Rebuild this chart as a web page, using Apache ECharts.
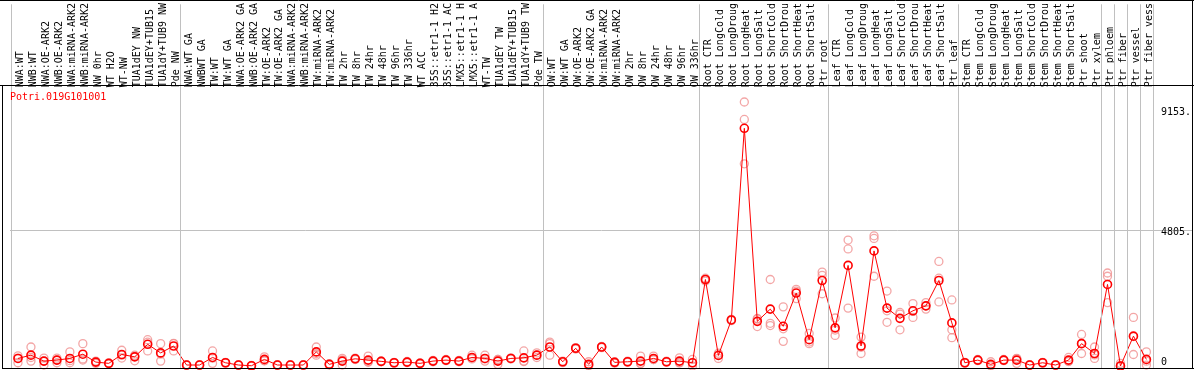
<!DOCTYPE html>
<html>
<head>
<meta charset="utf-8">
<script src="https://cdn.jsdelivr.net/npm/echarts@6/dist/echarts.min.js"></script>
<style>html,body{margin:0;padding:0;background:#fff;}#c{width:1194px;height:370px;}</style>
</head>
<body>
<div id="c"></div>
<script>
const geneName = 'Potri.019G101001';
const categories = [
'NWA:WT','NWB:WT','NWA:OE-ARK2','NWB:OE-ARK2','NWA:miRNA-ARK2','NWB:miRNA-ARK2','NW 0hr','WT H2O','WT-NW','TUA1dEY NW','TUA1dEY+TUB15','TUA1dY+TUB9 NW','Pde NW',
'NWA:WT GA','NWBWT GA','TW:WT','TW:WT GA','NWA:OE-ARK2 GA','NWB:OE-ARK2 GA','TW:OE-ARK2','TW:OE-ARK2 GA','NWA:miRNA-ARK2','NWB:miRNA-ARK2','TW:miRNA-ARK2','TW:miRNA-ARK2','TW 2hr','TW 8hr','TW 24hr','TW 48hr','TW 96hr','TW 336hr','WT ACC','35S::etr1-1 H2','35S::etr1-1 AC','LMX5::etr1-1 H','LMX5::etr1-1 A','WT-TW','TUA1dEY TW','TUA1dEY+TUB15','TUA1dY+TUB9 TW','Pde TW',
'OW:WT','OW:WT GA','OW:OE-ARK2','OW:OE-ARK2 GA','OW:miRNA-ARK2','OW:miRNA-ARK2','OW 2hr','OW 8hr','OW 24hr','OW 48hr','OW 96hr','OW 336hr',
'Root CTR','Root LongCold','Root LongDroug','Root LongHeat','Root LongSalt','Root ShortCold','Root ShortDrou','Root ShortHeat','Root ShortSalt','Ptr root',
'Leaf CTR','Leaf LongCold','Leaf LongDroug','Leaf LongHeat','Leaf LongSalt','Leaf ShortCold','Leaf ShortDrou','Leaf ShortHeat','Leaf ShortSalt','Ptr leaf',
'Stem CTR','Stem LongCold','Stem LongDroug','Stem LongHeat','Stem LongSalt','Stem ShortCold','Stem ShortDrou','Stem ShortHeat','Stem ShortSalt','Ptr shoot','Ptr xylem',
'Ptr phloem','Ptr fiber','Ptr vessel','Ptr fiber vess'];
const groupSizes = [13, 28, 12, 10, 10, 11, 1, 1, 1, 1];
const meanValues = [
268,383,174,209,268,418,139,94,407,324,766,463,707,
35,35,303,115,35,10,233,35,35,35,498,59,174,254,209,164,115,139,94,174,209,174,303,268,174,268,289,383,
672,150,627,59,672,129,150,174,268,150,174,115,
3054,373,1626,8392,1577,2009,1403,2577,930,3019,
1348,3552,707,4064,2044,1682,1950,2124,3019,1522,
115,209,59,209,209,35,115,35,209,790,442,
2880,0,1055,233];
const rep1 = [
359,672,279,279,498,790,174,94,557,383,930,790,790,
20,20,533,100,20,0,324,20,20,20,672,40,35,230,348,150,100,120,80,150,190,150,383,383,59,250,533,463,
846,120,600,150,650,100,130,348,348,170,289,233,
3000,268,1600,9321,1393,3054,2089,2705,790,3318,
1696,4447,1020,4596,2646,1891,2204,2009,3691,2333,
100,190,150,190,94,20,100,20,303,1114,672,
3284,94,1717,498];
const rep2 = [
115,174,35,115,115,250,94,80,383,185,533,174,533,
50,50,94,130,50,20,190,50,50,50,383,80,270,280,150,180,130,160,110,200,230,200,280,174,230,290,174,383,
383,170,650,20,690,150,170,100,230,130,120,0,
3100,400,1650,8705,1661,1508,870,2646,846,3203,
1079,4133,442,4503,1950,1278,1717,2124,2263,1278,
130,230,20,230,270,50,130,50,170,442,268,
3169,0,407,35];
const rep3 = [
279,300,174,209,190,210,150,110,280,348,840,420,800,
35,35,279,115,35,10,185,35,35,35,440,59,220,254,130,164,115,139,94,174,209,174,250,250,230,268,160,300,
790,150,627,10,672,129,150,80,230,150,110,110,
3060,450,1626,7138,1677,1428,1313,2380,1150,2552,
1270,2044,660,3169,1543,1835,1930,2240,3100,999,
115,209,10,209,260,35,115,35,160,800,390,
2239,0,1040,170];
const yTickValues = [0, 4805, 9153];
const yTickLabels = ['0', '4805.', '9153.'];

const boundaries = [0];
groupSizes.forEach(s => boundaries.push(boundaries[boundaries.length - 1] + s));

const MONO = 'DejaVu Sans Mono';
const chart = echarts.init(document.getElementById('c'));
const repData = [];
[rep1, rep2, rep3].forEach(r => r.forEach((v, i) => repData.push([i, v])));

const option = {
  animation: false,
  backgroundColor: '#fff',
  title: {
    text: geneName, left: 10, top: 92, padding: 0,
    textStyle: {color: '#ff0000', fontFamily: MONO, fontSize: 10, fontWeight: 'normal'}
  },
  grid: {left: 11.5, right: 38.5, top: 0, bottom: 2, containLabel: false},
  xAxis: [
    {
      type: 'category', data: categories, position: 'top', offset: -85,
      boundaryGap: true,
      axisLine: {show: false}, axisTick: {show: false}, splitLine: {show: false},
      axisLabel: {
        rotate: 90, interval: 0, margin: 2, fontFamily: MONO, fontSize: 10, color: '#000',
        formatter: v => '{c|' + v + '}',
        rich: {c: {fontFamily: MONO, fontSize: 10, color: '#000', padding: [5, 0, 0, 0]}}
      }
    },
    {type: 'value', min: 0, max: categories.length, show: false}
  ],
  yAxis: {
    type: 'value', position: 'right', min: -70, max: 12770,
    axisLine: {show: false}, axisTick: {show: false}, splitLine: {show: false},
    axisLabel: {
      customValues: yTickValues, margin: 8, fontFamily: MONO, fontSize: 10, color: '#000',
      formatter: v => { const k = yTickValues.indexOf(v); return '{t' + k + '|' + yTickLabels[k] + '}'; },
      rich: {
        t0: {fontFamily: MONO, fontSize: 10, color: '#000', padding: [0, 0, 8, 0]},
        t1: {fontFamily: MONO, fontSize: 10, color: '#000', padding: [4, 0, 0, 0]},
        t2: {fontFamily: MONO, fontSize: 10, color: '#000', padding: [12, 0, 0, 0]}
      }
    }
  },
  series: [
    {
      type: 'line', xAxisIndex: 1, data: [], silent: true,
      markLine: {
        silent: true, symbol: ['none', 'none'], label: {show: false},
        lineStyle: {color: '#c0c0c0', type: 'solid', width: 1},
        data: boundaries.map(b => ({xAxis: b}))
      }
    },
    {
      type: 'scatter', xAxisIndex: 0, data: repData, symbol: 'circle', symbolSize: 8,
      itemStyle: {color: 'transparent', borderColor: '#f09090', borderWidth: 1.3}, z: 3
    },
    {
      type: 'line', xAxisIndex: 0, data: meanValues.map((v, i) => [i, v]),
      symbol: 'circle', symbolSize: 8, showSymbol: true,
      lineStyle: {color: '#ff0000', width: 1},
      itemStyle: {color: 'transparent', borderColor: '#ff0000', borderWidth: 1.6}, z: 4
    }
  ]
};
chart.setOption(option);

const yGrid = chart.convertToPixel({yAxisIndex: 0}, yTickValues[1]);
const W = 1194, B = 368.5;
const ln = (x1, y1, x2, y2, c) => ({type: 'line', shape: {x1, y1, x2, y2}, style: {stroke: c, lineWidth: 1}, silent: true, z: 10});
chart.setOption({
  graphic: [
    Object.assign(ln(10, Math.round(yGrid) + 0.5, W - 1, Math.round(yGrid) + 0.5, '#c0c0c0'), {z: 0}),
    ln(0, 0.5, W, 0.5, '#000'),
    ln(0, 85.5, W, 85.5, '#000'),
    ln(W - 1.5, 0, W - 1.5, B, '#000'),
    ln(2.5, 85, 2.5, B, '#000'),
    ln(2, B, W, B, '#000')
  ]
});
</script>
</body>
</html>
